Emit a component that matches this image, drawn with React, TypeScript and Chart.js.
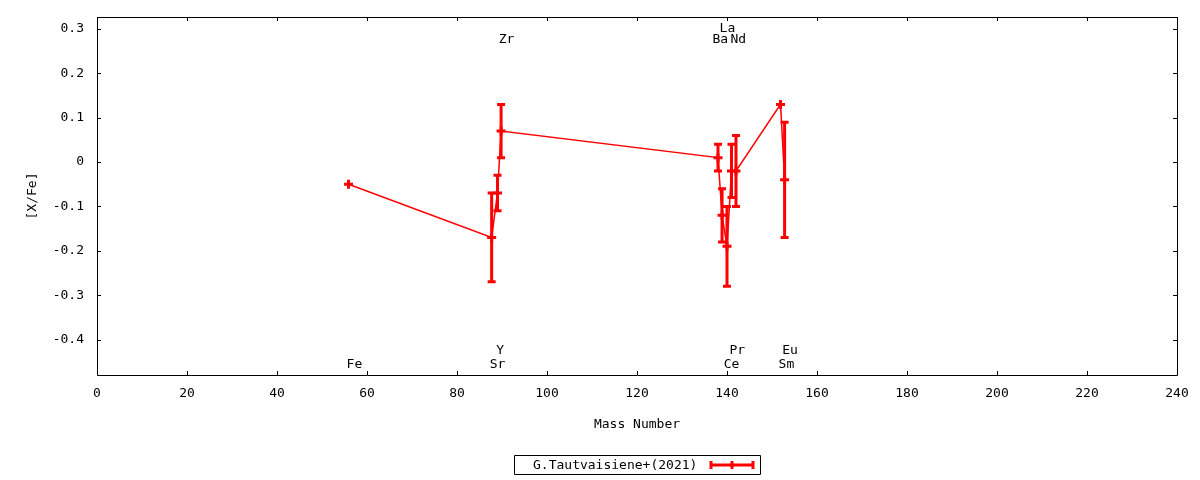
import { useEffect, useRef } from "react";
import { Chart, registerables } from "chart.js";

Chart.register(...registerables);

// ---- data ----
const elementNames = ["Fe", "Sr", "Y", "Zr", "Ba", "La", "Ce", "Pr", "Nd", "Sm", "Eu"];
const massNumbers = [55.9, 87.7, 89.0, 89.8, 138.0, 138.9, 140.0, 141.0, 142.0, 151.9, 152.8];
const xfeValues = [-0.05, -0.17, -0.07, 0.07, 0.01, -0.12, -0.19, -0.02, -0.02, 0.13, -0.04];
const xfeErrors = [0, 0.1, 0.04, 0.06, 0.03, 0.06, 0.09, 0.06, 0.08, 0, 0.13];

const xTicks = [0, 20, 40, 60, 80, 100, 120, 140, 160, 180, 200, 220, 240];
const yTicks = [-0.4, -0.3, -0.2, -0.1, 0, 0.1, 0.2, 0.3];

const labelNames = ["Fe", "Sr", "Y", "Zr", "Ba", "La", "Nd", "Ce", "Pr", "Sm", "Eu"];
const labelX = [57.2, 89.0, 89.6, 91.0, 138.5, 140.1, 142.5, 141.0, 142.3, 153.2, 154.0];
const labelY = [-0.457, -0.457, -0.426, 0.276, 0.276, 0.301, 0.276, -0.457, -0.426, -0.457, -0.426];

const seriesLabel = "G.Tautvaisiene+(2021)";
const xTitle = "Mass Number";
const yTitle = "[X/Fe]";

const RED = "#ff0000";
const FONT_FAMILY = "'DejaVu Sans Mono', monospace";
const FONT_SIZE = 13;

export default function App() {
  const canvasRef = useRef<HTMLCanvasElement | null>(null);

  useEffect(() => {
    document.body.style.margin = "0";
    const canvas = canvasRef.current;
    if (!canvas) return;

    const fontStr = `${FONT_SIZE}px ${FONT_FAMILY}`;

    const errorBarPlugin = {
      id: "errorBars",
      afterDatasetsDraw(chart: any) {
        const { ctx, scales } = chart;
        const xs = scales.x;
        const ys = scales.y;
        ctx.save();
        ctx.strokeStyle = RED;
        ctx.lineWidth = 3;
        ctx.lineCap = "butt";
        massNumbers.forEach((m, i) => {
          const e = xfeErrors[i];
          if (!e) return;
          const px = xs.getPixelForValue(m);
          const top = ys.getPixelForValue(xfeValues[i] + e);
          const bot = ys.getPixelForValue(xfeValues[i] - e);
          ctx.beginPath();
          ctx.moveTo(px, top);
          ctx.lineTo(px, bot);
          ctx.moveTo(px - 4, top);
          ctx.lineTo(px + 4, top);
          ctx.moveTo(px - 4, bot);
          ctx.lineTo(px + 4, bot);
          ctx.stroke();
        });
        ctx.restore();
      },
    };

    const framePlugin = {
      id: "frame",
      afterDraw(chart: any) {
        const { ctx, chartArea, scales } = chart;
        const { left, right, top, bottom } = chartArea;
        const xs = scales.x;
        const ys = scales.y;
        const tl = 4;
        ctx.save();
        ctx.strokeStyle = "#000";
        ctx.lineWidth = 1;
        ctx.beginPath();
        ctx.rect(Math.round(left) + 0.5, Math.round(top) + 0.5, Math.round(right - left), Math.round(bottom - top));
        ctx.stroke();
        ctx.beginPath();
        xTicks.forEach((v) => {
          const px = Math.round(xs.getPixelForValue(v)) + 0.5;
          ctx.moveTo(px, bottom);
          ctx.lineTo(px, bottom - tl);
          ctx.moveTo(px, top);
          ctx.lineTo(px, top + tl);
        });
        yTicks.forEach((v) => {
          const py = Math.round(ys.getPixelForValue(v)) + 0.5;
          ctx.moveTo(left, py);
          ctx.lineTo(left + tl, py);
          ctx.moveTo(right, py);
          ctx.lineTo(right - tl, py);
        });
        ctx.stroke();

        // element labels
        ctx.fillStyle = "#000";
        ctx.font = fontStr;
        ctx.textAlign = "center";
        ctx.textBaseline = "middle";
        labelNames.forEach((n, i) => {
          ctx.fillText(n, xs.getPixelForValue(labelX[i]), ys.getPixelForValue(labelY[i]));
        });

        // legend
        const cx = (left + right) / 2;
        const boxW = 246;
        const boxH = 19;
        const boxL = Math.round(cx - boxW / 2);
        const boxT = 455;
        ctx.beginPath();
        ctx.rect(boxL + 0.5, boxT + 0.5, boxW, boxH);
        ctx.stroke();
        ctx.textAlign = "left";
        ctx.fillText(seriesLabel, boxL + 19, boxT + boxH / 2 + 1);
        const sx0 = boxL + 197;
        const sx1 = boxL + 239;
        const sy = boxT + boxH / 2 + 0.5;
        const sm = (sx0 + sx1) / 2;
        ctx.strokeStyle = RED;
        ctx.lineWidth = 3;
        ctx.beginPath();
        ctx.moveTo(sx0, sy);
        ctx.lineTo(sx1, sy);
        ctx.moveTo(sx0, sy - 4);
        ctx.lineTo(sx0, sy + 4);
        ctx.moveTo(sx1, sy - 4);
        ctx.lineTo(sx1, sy + 4);
        ctx.moveTo(sm, sy - 4);
        ctx.lineTo(sm, sy + 4);
        ctx.stroke();
        ctx.restore();
      },
    };

    const chart = new Chart(canvas, {
      type: "scatter",
      data: {
        datasets: [
          {
            label: seriesLabel,
            data: massNumbers.map((m, i) => ({ x: m, y: xfeValues[i] })),
            showLine: true,
            borderColor: RED,
            backgroundColor: RED,
            borderWidth: 1.5,
            pointStyle: "cross",
            pointRadius: 4.5,
            pointBorderWidth: 3,
            pointBorderColor: RED,
            pointHoverRadius: 4.5,
            tension: 0,
          } as any,
        ],
      },
      options: {
        animation: false,
        responsive: false,
        devicePixelRatio: 1,
        layout: { padding: { left: 0, right: 23, top: 17, bottom: 0 } },
        plugins: {
          legend: { display: false },
          tooltip: { enabled: false },
        },
        scales: {
          x: {
            type: "linear",
            min: 0,
            max: 240,
            afterBuildTicks: (s: any) => {
              s.ticks = xTicks.map((v) => ({ value: v }));
            },
            afterFit: (s: any) => {
              s.height = 105;
              s.paddingLeft = 0;
              s.paddingRight = 0;
            },
            grid: { display: false, drawTicks: false },
            border: { display: false },
            ticks: {
              color: "#000",
              font: { family: FONT_FAMILY, size: FONT_SIZE },
              padding: 11,
              maxRotation: 0,
              autoSkip: false,
              callback: (v: any) => String(v),
            },
            title: {
              display: true,
              text: xTitle,
              color: "#000",
              font: { family: FONT_FAMILY, size: FONT_SIZE },
              padding: { top: 0, bottom: 48 },
            },
          },
          y: {
            type: "linear",
            min: -0.48,
            max: 0.327,
            afterBuildTicks: (s: any) => {
              s.ticks = yTicks.map((v) => ({ value: v }));
            },
            afterFit: (s: any) => {
              s.width = 97;
              s.paddingTop = 0;
              s.paddingBottom = 0;
            },
            grid: { display: false, drawTicks: false },
            border: { display: false },
            ticks: {
              color: "#000",
              font: { family: FONT_FAMILY, size: FONT_SIZE },
              padding: 13,
              autoSkip: false,
              callback: (v: any) => {
                const n = Math.round(Number(v) * 10) / 10;
                return n === 0 ? "0" : n.toFixed(1);
              },
            },
            title: {
              display: true,
              text: yTitle,
              color: "#000",
              font: { family: FONT_FAMILY, size: FONT_SIZE },
              padding: { top: 25, bottom: 0 },
            },
          },
        },
      },
      plugins: [errorBarPlugin, framePlugin],
    });

    return () => {
      chart.destroy();
    };
  }, []);

  return (
    <div style={{ position: "absolute", left: 0, top: 0, width: 1200, height: 480 }}>
      <canvas ref={canvasRef} width={1200} height={480} style={{ display: "block" }} />
    </div>
  );
}
